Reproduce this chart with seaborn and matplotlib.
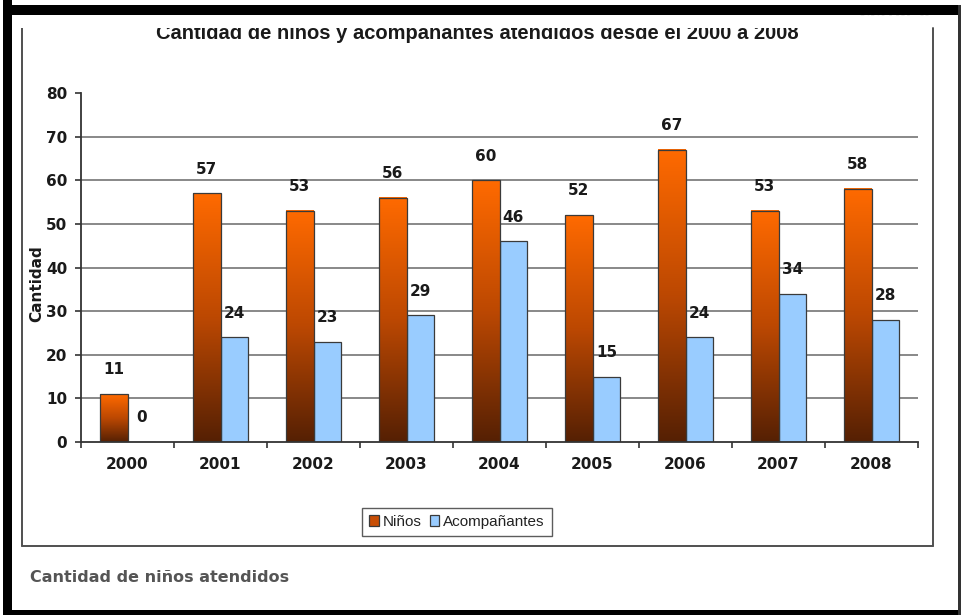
import matplotlib
matplotlib.use("Agg")
import matplotlib.pyplot as plt
from matplotlib.patches import Rectangle, Patch
from matplotlib.lines import Line2D
from matplotlib.colors import LinearSegmentedColormap
import seaborn as sns
import numpy as np
import pandas as pd

# -------------------------
# Data
# -------------------------

years = ['2000', '2001', '2002', '2003', '2004', '2005', '2006', '2007', '2008']
ninos = [11, 57, 53, 56, 60, 52, 67, 53, 58]
acompanantes = [0, 24, 23, 29, 46, 15, 24, 34, 28]
series_names = ['Niños', 'Acompañantes']
y_ticks = [0, 10, 20, 30, 40, 50, 60, 70, 80]

title_text = 'Cantidad de niños y acompañantes atendidos desde el 2000 a 2008'
caption_text = 'Cantidad de niños atendidos'

df = pd.DataFrame({
    'year': years * 2,
    'serie': [series_names[0]] * len(years) + [series_names[1]] * len(years),
    'valor': ninos + acompanantes
})

sns.set_style('white')
plt.rcParams['font.family'] = ['DejaVu Sans']

W, H = 961, 615
fig = plt.figure(figsize=(W / 100, H / 100), dpi=100)
fig.patch.set_facecolor('white')


def fx(x):
    return x / W


def fy(y):
    return 1 - y / H


ax = fig.add_axes([fx(81), fy(442), fx(918) - fx(81), fy(93) - fy(442)])
ax.set_facecolor('white')

blue = '#99CCFF'
edge = '#3a3a3a'

sns.barplot(
    data=df,
    x='year',
    y='valor',
    hue='serie',
    palette={series_names[0]: '#E05A00', series_names[1]: blue},
    saturation=1,
    width=0.6,
    gap=0,
    edgecolor=edge,
    linewidth=0.9,
    legend=False,
    ax=ax
)

# -------------------------
# Gradient fill for Niños bars
# -------------------------

orange_cmap = LinearSegmentedColormap.from_list(
    'orange_grad',
    [(0.0, '#552004'), (0.5, '#BC4802'), (1.0, '#FF6A00')]
)
grad = np.linspace(0, 1, 256).reshape(-1, 1)

bars = list(ax.patches)
n = len(years)
for patch in bars[:n]:
    x0 = patch.get_x()
    w = patch.get_width()
    h = patch.get_height()
    ax.imshow(
        grad,
        cmap=orange_cmap,
        origin='lower',
        extent=[x0, x0 + w, 0, h],
        aspect='auto',
        interpolation='bicubic',
        zorder=patch.get_zorder()
    )
    patch.set_facecolor('none')
    patch.set_zorder(patch.get_zorder() + 0.5)

ax.set_xlim(-0.5, n - 0.5)
ax.set_ylim(0, 80)

# -------------------------
# Value labels
# -------------------------

for patch, val in zip(bars, ninos + acompanantes):
    ax.annotate(
        f'{val}',
        xy=(patch.get_x() + patch.get_width() / 2, patch.get_height()),
        xytext=(0, 12),
        textcoords='offset points',
        ha='center',
        va='bottom',
        fontsize=11,
        fontweight='bold',
        color='#1a1a1a',
        zorder=6
    )

# -------------------------
# Axes styling
# -------------------------

ax.set_yticks(y_ticks)
ax.yaxis.grid(True, color='#7f7f7f', linewidth=1.3)
ax.get_ygridlines()[0].set_visible(False)
ax.get_ygridlines()[-1].set_visible(False)
ax.set_axisbelow(True)

for side in ['top', 'right']:
    ax.spines[side].set_visible(False)
for side in ['left', 'bottom']:
    ax.spines[side].set_color('#333333')
    ax.spines[side].set_linewidth(1.3)

ax.set_xlabel('')
ax.set_ylabel('')

ax.set_xticks(np.arange(-0.5, n, 1.0), minor=True)
ax.tick_params(axis='x', which='major', length=0, pad=11,
               labelsize=11, labelcolor='#1a1a1a')
ax.tick_params(axis='x', which='minor', length=4, width=1.2,
               color='#333333', direction='out')
ax.tick_params(axis='y', which='major', length=4, width=1.2,
               color='#333333', direction='out', pad=6,
               labelsize=11, labelcolor='#1a1a1a')
ax.tick_params(left=True, bottom=False)
ax.tick_params(axis='x', which='minor', bottom=True)

for lbl in ax.get_xticklabels() + ax.get_yticklabels():
    lbl.set_fontweight('bold')

# -------------------------
# Legend
# -------------------------

handles = [
    Patch(facecolor='#C84E05', edgecolor=edge, linewidth=0.9),
    Patch(facecolor=blue, edgecolor=edge, linewidth=0.9)
]
leg = fig.legend(
    handles,
    series_names,
    loc='center',
    bbox_to_anchor=(fx(457), fy(522)),
    bbox_transform=fig.transFigure,
    ncol=2,
    frameon=True,
    fancybox=False,
    edgecolor='#333333',
    handlelength=0.65,
    handleheight=0.75,
    handletextpad=0.25,
    columnspacing=0.5,
    borderpad=0.45,
    borderaxespad=0,
    prop={'family': 'Liberation Sans', 'size': 11}
)
leg.get_frame().set_linewidth(1.0)
for t in leg.get_texts():
    t.set_color('#222222')

# -------------------------
# Texts
# -------------------------

fig.text(fx(37), fy(284), 'Cantidad', rotation=90, ha='center', va='center',
         fontsize=11, fontweight='bold', color='#1a1a1a')

fig.text(fx(477), fy(39), title_text, ha='center', va='baseline',
         fontsize=14.5, fontweight='bold', family='Liberation Sans',
         color='#1a1a1a', zorder=2)

fig.text(fx(30), fy(577), caption_text, ha='left', va='center',
         fontsize=11.5, fontweight='bold', color='#555555')

fig.text(fx(895), fy(14), 'Cerrar X', ha='center', va='center',
         fontsize=11, fontweight='bold', color='#ececec', zorder=2)

# -------------------------
# Frame pieces of the screenshot
# -------------------------

# white strip that cuts the title top
fig.patches.append(Rectangle((fx(12), fy(28)), fx(920), fy(16) - fy(28),
                             transform=fig.transFigure, facecolor='white',
                             edgecolor='none', zorder=5))

# inner panel border
panel_color = '#505050'
fig.lines.append(Line2D([fx(22), fx(22)], [fy(28), fy(546)],
                        transform=fig.transFigure, color=panel_color, lw=1.4))
fig.lines.append(Line2D([fx(933), fx(933)], [fy(28), fy(546)],
                        transform=fig.transFigure, color=panel_color, lw=1.4))
fig.lines.append(Line2D([fx(22), fx(933)], [fy(546), fy(546)],
                        transform=fig.transFigure, color=panel_color, lw=1.4))

# thick black outer border: left, top, bottom, thin right
fig.patches.append(Rectangle((fx(3), 0), fx(9), 1,
                             transform=fig.transFigure, facecolor='black',
                             edgecolor='none', zorder=6))
fig.patches.append(Rectangle((fx(3), fy(15)), 1, fy(5) - fy(15),
                             transform=fig.transFigure, facecolor='black',
                             edgecolor='none', zorder=6))
fig.patches.append(Rectangle((fx(3), 0), 1, fy(610),
                             transform=fig.transFigure, facecolor='black',
                             edgecolor='none', zorder=6))
fig.patches.append(Rectangle((fx(958), 0), fx(3), fy(5),
                             transform=fig.transFigure, facecolor='#333333',
                             edgecolor='none', zorder=6))

fig.savefig('out.png', dpi=100, facecolor='white')
plt.close(fig)
